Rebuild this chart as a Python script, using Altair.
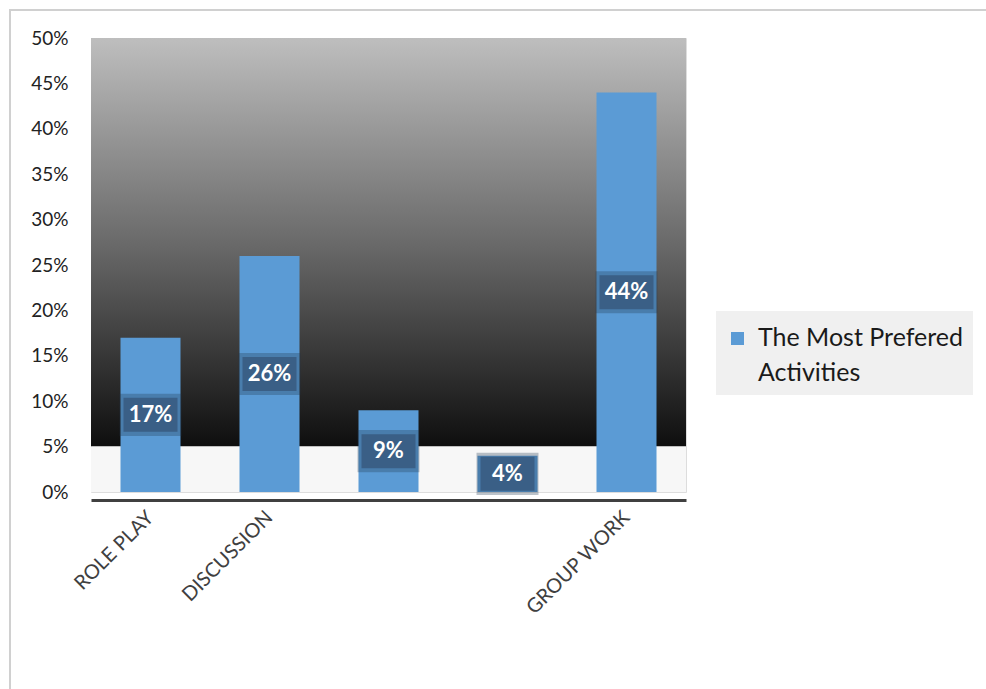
import altair as alt
import pandas as pd

categories = ["ROLE PLAY", "DISCUSSION", " ", "  ", "GROUP WORK"]
values = [0.17, 0.26, 0.09, 0.04, 0.44]
series_name = "The Most Prefered Activities"
y_ticks = [0.0, 0.05, 0.10, 0.15, 0.20, 0.25, 0.30, 0.35, 0.40, 0.45, 0.50]

df = pd.DataFrame({"category": categories, "value": values, "series": series_name})

FONT = "Lato"
W, H = 595, 454

xenc = alt.X("category:N", sort=categories, scale=alt.Scale(paddingInner=0.5, paddingOuter=0.25),
             axis=alt.Axis(title=None, labelAngle=-45, labelFont=FONT, labelFontSize=20,
                           labelColor="#404040", ticks=False, domainColor="#404040",
                           domainWidth=3, offset=8, labelPadding=7, labelOffset=-7))
yscale = alt.Scale(domain=[0, 0.5], nice=False, zero=True)
yenc = alt.Y("value:Q", scale=yscale,
             axis=alt.Axis(title=None, values=y_ticks, format=".0%", grid=False, ticks=False,
                           domain=False, labelFont=FONT, labelFontSize=19, labelColor="#222222",
                           labelPadding=23))

base = alt.Chart(df)

frame = base.mark_rect(fill=None, stroke="#d0d0d0", strokeWidth=2, clip=False).encode(
    x=alt.value(-81), x2=alt.value(899), y=alt.value(-28), y2=alt.value(662)
).transform_filter("datum.category == 'ROLE PLAY'")

grad = alt.LinearGradient(
    gradient="linear", x1=0, y1=0, x2=0, y2=1,
    stops=[alt.GradientStop(color="#bebebe", offset=0),
           alt.GradientStop(color="#6a6a6a", offset=0.5),
           alt.GradientStop(color="#0e0e0e", offset=1)])

bg_dark = base.mark_rect(fill=grad).encode(
    x=alt.value(0), x2=alt.value(W),
    y=alt.datum(0.5, scale=yscale), y2=alt.datum(0.05)
).transform_filter("datum.category == 'ROLE PLAY'")

bg_light = base.mark_rect(fill="#f7f7f7").encode(
    x=alt.value(0), x2=alt.value(W),
    y=alt.datum(0.05, scale=yscale), y2=alt.datum(0.0)
).transform_filter("datum.category == 'ROLE PLAY'")

bars = base.mark_bar(size=60).encode(
    x=xenc, y=yenc,
    color=alt.Color("series:N", scale=alt.Scale(range=["#5b9bd5"]),
                    legend=alt.Legend(title=" ", titleFontSize=1, titlePadding=12,
                                      orient="none", legendX=625, legendY=273,
                                      fillColor="#f0f0f0", padding=9, symbolOffset=0,
                                      symbolType="M-1,-2.08H1V-0.08H-1Z",
                                      symbolSize=169, symbolStrokeWidth=0, labelOffset=8,
                                      labelFont=FONT, labelFontSize=25, labelColor="#1a1a1a",
                                      labelLimit=400, labelBaseline="alphabetic",
                                      labelExpr="[slice(datum.label, 0, 17) + '\u00a0\u00a0\u00a0', slice(datum.label, 18)]"))
)

mid = base.transform_calculate(mid="datum.value / 2")

halo = mid.mark_point(shape="M-1,-0.68H1V0.68H-1Z", filled=True, color="#20384f",
                      opacity=0.3, size=62 * 62).encode(
    x=alt.X("category:N", sort=categories), y=alt.Y("mid:Q", scale=yscale))
box = mid.mark_point(shape="M-1,-0.63H1V0.63H-1Z", filled=True, color="#3a5f86",
                     opacity=1, size=54 * 54).encode(
    x=alt.X("category:N", sort=categories), y=alt.Y("mid:Q", scale=yscale))
labels = mid.mark_text(font=FONT, fontSize=22, fontWeight="bold", color="white").encode(
    x=alt.X("category:N", sort=categories), y=alt.Y("mid:Q", scale=yscale),
    text=alt.Text("value:Q", format=".0%"))

chart = alt.layer(frame, bg_dark, bg_light, bars, halo, box, labels).properties(
    width=W, height=H,
    autosize=alt.AutoSizeParams(type="none"),
    padding={"left": 91, "top": 38, "right": 300, "bottom": 197},
    background="white"
).configure_view(stroke=None).configure(
    style={"guide-label": {"lineHeight": 35}}
)

chart.save("out.html", embed_options={"renderer": "svg", "actions": False})
